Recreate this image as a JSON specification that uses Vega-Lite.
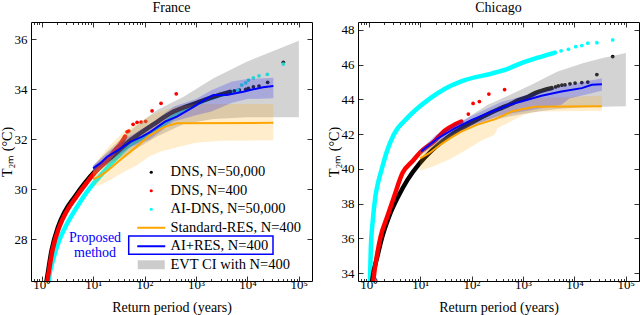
{
  "$schema": "https://vega.github.io/schema/vega-lite/v6.json",
  "padding": {"left": 0, "top": 0, "right": 0, "bottom": 0},
  "config": {
    "view": {"stroke": null},
    "font": "Liberation Serif",
    "axis": {"domainColor": "black", "tickColor": "black", "tickWidth": 0.8, "domainWidth": 1, "grid": false, "zindex": 1},
    "concat": {"spacing": 14}
  },
  "datasets": {
    "fr_pts": [
      {"s":"AI-DNS, N=50,000","k":"d","v":1.3,"t":25.9},{"s":"AI-DNS, N=50,000","k":"d","v":1.37,"t":26.36},{"s":"AI-DNS, N=50,000","k":"d","v":1.66,"t":27.16},{"s":"AI-DNS, N=50,000","k":"d","v":2.08,"t":27.83},{"s":"AI-DNS, N=50,000","k":"d","v":2.79,"t":28.43},{"s":"AI-DNS, N=50,000","k":"d","v":4.06,"t":29.03},{"s":"AI-DNS, N=50,000","k":"d","v":5.88,"t":29.56},{"s":"AI-DNS, N=50,000","k":"d","v":8.51,"t":30.03},{"s":"AI-DNS, N=50,000","k":"d","v":12.4,"t":30.43},{"s":"AI-DNS, N=50,000","k":"d","v":20,"t":30.9},{"s":"AI-DNS, N=50,000","k":"d","v":50,"t":31.75},{"s":"AI-DNS, N=50,000","k":"d","v":150,"t":32.3},{"s":"AI-DNS, N=50,000","k":"d","v":400,"t":32.95},{"s":"AI-DNS, N=50,000","k":"d","v":1000,"t":33.4},{"s":"AI-DNS, N=50,000","k":"d","v":2500,"t":33.72},{"s":"AI-DNS, N=50,000","k":"d","v":5000,"t":33.88},
      {"s":"DNS, N=50,000","k":"d","v":1.14,"t":25.9},{"s":"DNS, N=50,000","k":"d","v":1.25,"t":26.36},{"s":"DNS, N=50,000","k":"d","v":1.56,"t":27.56},{"s":"DNS, N=50,000","k":"d","v":2.08,"t":28.49},{"s":"DNS, N=50,000","k":"d","v":2.79,"t":29.09},{"s":"DNS, N=50,000","k":"d","v":4.36,"t":29.69},{"s":"DNS, N=50,000","k":"d","v":6.81,"t":30.23},{"s":"DNS, N=50,000","k":"d","v":10.6,"t":30.69},{"s":"DNS, N=50,000","k":"d","v":19.4,"t":31.16},{"s":"DNS, N=50,000","k":"d","v":53,"t":31.95},{"s":"DNS, N=50,000","k":"d","v":151,"t":32.6},{"s":"DNS, N=50,000","k":"d","v":368,"t":33.1},{"s":"DNS, N=50,000","k":"d","v":1040,"t":33.45},{"s":"DNS, N=50,000","k":"d","v":2190,"t":33.69},{"s":"DNS, N=50,000","k":"d","v":4600,"t":33.89},
      {"s":"DNS, N=400","k":"d","v":1.17,"t":25.9},{"s":"DNS, N=400","k":"d","v":1.28,"t":26.32},{"s":"DNS, N=400","k":"d","v":1.62,"t":27.56},{"s":"DNS, N=400","k":"d","v":2.2,"t":28.49},{"s":"DNS, N=400","k":"d","v":3.01,"t":29.09},{"s":"DNS, N=400","k":"d","v":4.7,"t":29.69},{"s":"DNS, N=400","k":"d","v":7.37,"t":30.23},{"s":"DNS, N=400","k":"d","v":10.98,"t":30.68},{"s":"DNS, N=400","k":"d","v":18.8,"t":31.16},{"s":"DNS, N=400","k":"d","v":26.8,"t":31.56},{"s":"DNS, N=400","k":"d","v":35,"t":31.84},{"s":"DNS, N=400","k":"d","v":42,"t":32.1},
      {"s":"DNS, N=50,000","k":"p","v":5600,"t":33.93},{"s":"DNS, N=50,000","k":"p","v":7000,"t":33.96},{"s":"DNS, N=50,000","k":"p","v":9270,"t":33.99},{"s":"DNS, N=50,000","k":"p","v":10450,"t":34.03},{"s":"DNS, N=50,000","k":"p","v":13060,"t":34.09},{"s":"DNS, N=50,000","k":"p","v":16790,"t":34.12},{"s":"DNS, N=50,000","k":"p","v":24700,"t":34.27},{"s":"DNS, N=50,000","k":"p","v":49900,"t":35.07},
      {"s":"DNS, N=400","k":"p","v":45.8,"t":32.29},{"s":"DNS, N=400","k":"p","v":49.4,"t":32.32},{"s":"DNS, N=400","k":"p","v":59.9,"t":32.59},{"s":"DNS, N=400","k":"p","v":71.6,"t":32.67},{"s":"DNS, N=400","k":"p","v":85.6,"t":32.68},{"s":"DNS, N=400","k":"p","v":105,"t":32.71},{"s":"DNS, N=400","k":"p","v":140,"t":33.13},{"s":"DNS, N=400","k":"p","v":209,"t":33.43},{"s":"DNS, N=400","k":"p","v":413,"t":33.81},
      {"s":"AI-DNS, N=50,000","k":"p","v":6490,"t":33.96},{"s":"AI-DNS, N=50,000","k":"p","v":7760,"t":34.16},{"s":"AI-DNS, N=50,000","k":"p","v":9270,"t":34.25},{"s":"AI-DNS, N=50,000","k":"p","v":10450,"t":34.36},{"s":"AI-DNS, N=50,000","k":"p","v":13060,"t":34.45},{"s":"AI-DNS, N=50,000","k":"p","v":16790,"t":34.53},{"s":"AI-DNS, N=50,000","k":"p","v":24400,"t":34.59},{"s":"AI-DNS, N=50,000","k":"p","v":49900,"t":35.0}
    ],
    "fr_lines": [
      {"s":"AI+RES, N=400","v":10,"t":30.83},{"s":"AI+RES, N=400","v":14,"t":31.05},{"s":"AI+RES, N=400","v":18.7,"t":31.29},{"s":"AI+RES, N=400","v":30,"t":31.55},{"s":"AI+RES, N=400","v":53,"t":31.89},{"s":"AI+RES, N=400","v":90,"t":32.1},{"s":"AI+RES, N=400","v":130,"t":32.29},{"s":"AI+RES, N=400","v":250,"t":32.7},{"s":"AI+RES, N=400","v":426,"t":32.9},{"s":"AI+RES, N=400","v":898,"t":33.29},{"s":"AI+RES, N=400","v":1630,"t":33.63},{"s":"AI+RES, N=400","v":2180,"t":33.76},{"s":"AI+RES, N=400","v":3940,"t":33.76},{"s":"AI+RES, N=400","v":8300,"t":33.89},{"s":"AI+RES, N=400","v":13000,"t":33.99},{"s":"AI+RES, N=400","v":20200,"t":34.07},{"s":"AI+RES, N=400","v":31900,"t":34.12},
      {"s":"Standard-RES, N=400","v":10,"t":30.4},{"s":"Standard-RES, N=400","v":13,"t":30.5},{"s":"Standard-RES, N=400","v":18,"t":30.7},{"s":"Standard-RES, N=400","v":25,"t":30.95},{"s":"Standard-RES, N=400","v":35,"t":31.2},{"s":"Standard-RES, N=400","v":50,"t":31.45},{"s":"Standard-RES, N=400","v":72,"t":31.72},{"s":"Standard-RES, N=400","v":121,"t":32.12},{"s":"Standard-RES, N=400","v":188,"t":32.36},{"s":"Standard-RES, N=400","v":242,"t":32.49},{"s":"Standard-RES, N=400","v":426,"t":32.63},{"s":"Standard-RES, N=400","v":31900,"t":32.65}
    ],
    "fr_bands": [
      {"s":"EVT CI with N=400","v":10,"lo":30.55,"hi":30.95},{"s":"EVT CI with N=400","v":20,"lo":31.0,"hi":31.55},{"s":"EVT CI with N=400","v":50,"lo":31.45,"hi":32.3},{"s":"EVT CI with N=400","v":175,"lo":32.1,"hi":33.16},{"s":"EVT CI with N=400","v":575,"lo":32.6,"hi":33.69},{"s":"EVT CI with N=400","v":2190,"lo":32.8,"hi":34.43},{"s":"EVT CI with N=400","v":9690,"lo":32.87,"hi":35.09},{"s":"EVT CI with N=400","v":100000,"lo":32.87,"hi":35.93},
      {"s":"AI+RES, N=400","v":10,"lo":30.7,"hi":30.95},{"s":"AI+RES, N=400","v":20,"lo":31.1,"hi":31.5},{"s":"AI+RES, N=400","v":50,"lo":31.65,"hi":32.1},{"s":"AI+RES, N=400","v":130,"lo":32.0,"hi":32.6},{"s":"AI+RES, N=400","v":370,"lo":32.7,"hi":33.3},{"s":"AI+RES, N=400","v":1000,"lo":32.95,"hi":33.6},{"s":"AI+RES, N=400","v":2000,"lo":33.1,"hi":33.95},{"s":"AI+RES, N=400","v":5000,"lo":33.45,"hi":34.3},{"s":"AI+RES, N=400","v":10000,"lo":33.6,"hi":34.4},{"s":"AI+RES, N=400","v":31900,"lo":33.63,"hi":34.45},
      {"s":"Standard-RES, N=400","v":10,"lo":30.1,"hi":30.9},{"s":"Standard-RES, N=400","v":15,"lo":30.2,"hi":31.4},{"s":"Standard-RES, N=400","v":25,"lo":30.45,"hi":31.9},{"s":"Standard-RES, N=400","v":40,"lo":30.7,"hi":32.3},{"s":"Standard-RES, N=400","v":70,"lo":30.95,"hi":32.6},{"s":"Standard-RES, N=400","v":120,"lo":31.3,"hi":32.9},{"s":"Standard-RES, N=400","v":200,"lo":31.5,"hi":33.1},{"s":"Standard-RES, N=400","v":400,"lo":31.65,"hi":33.3},{"s":"Standard-RES, N=400","v":1000,"lo":31.85,"hi":33.4},{"s":"Standard-RES, N=400","v":3000,"lo":31.93,"hi":33.4},{"s":"Standard-RES, N=400","v":31900,"lo":31.95,"hi":33.4}
    ],
    "ch_pts": [
      {"s":"AI-DNS, N=50,000","k":"d","v":1.04,"t":33.0},{"s":"AI-DNS, N=50,000","k":"d","v":1.06,"t":33.64},{"s":"AI-DNS, N=50,000","k":"d","v":1.1,"t":35.4},{"s":"AI-DNS, N=50,000","k":"d","v":1.2,"t":37.0},{"s":"AI-DNS, N=50,000","k":"d","v":1.35,"t":38.4},{"s":"AI-DNS, N=50,000","k":"d","v":1.55,"t":39.3},{"s":"AI-DNS, N=50,000","k":"d","v":1.8,"t":40.0},{"s":"AI-DNS, N=50,000","k":"d","v":2.2,"t":40.9},{"s":"AI-DNS, N=50,000","k":"d","v":3.04,"t":41.95},{"s":"AI-DNS, N=50,000","k":"d","v":5.72,"t":42.95},{"s":"AI-DNS, N=50,000","k":"d","v":14.7,"t":44.0},{"s":"AI-DNS, N=50,000","k":"d","v":29.9,"t":44.6},{"s":"AI-DNS, N=50,000","k":"d","v":73.6,"t":45.11},{"s":"AI-DNS, N=50,000","k":"d","v":244,"t":45.49},{"s":"AI-DNS, N=50,000","k":"d","v":518,"t":45.78},{"s":"AI-DNS, N=50,000","k":"d","v":931,"t":46.09},{"s":"AI-DNS, N=50,000","k":"d","v":2290,"t":46.47},{"s":"AI-DNS, N=50,000","k":"d","v":4170,"t":46.7},
      {"s":"DNS, N=50,000","k":"d","v":1.13,"t":33.2},{"s":"DNS, N=50,000","k":"d","v":1.18,"t":33.64},{"s":"DNS, N=50,000","k":"d","v":1.48,"t":34.98},{"s":"DNS, N=50,000","k":"d","v":1.85,"t":36.13},{"s":"DNS, N=50,000","k":"d","v":2.51,"t":37.28},{"s":"DNS, N=50,000","k":"d","v":3.64,"t":38.33},{"s":"DNS, N=50,000","k":"d","v":5.72,"t":39.38},{"s":"DNS, N=50,000","k":"d","v":9.68,"t":40.3},{"s":"DNS, N=50,000","k":"d","v":16.1,"t":41.0},{"s":"DNS, N=50,000","k":"d","v":39.7,"t":41.95},{"s":"DNS, N=50,000","k":"d","v":97.8,"t":42.64},{"s":"DNS, N=50,000","k":"d","v":241,"t":43.25},{"s":"DNS, N=50,000","k":"d","v":378,"t":43.5},{"s":"DNS, N=50,000","k":"d","v":593,"t":43.75},{"s":"DNS, N=50,000","k":"d","v":802,"t":43.95},{"s":"DNS, N=50,000","k":"d","v":1260,"t":44.15},{"s":"DNS, N=50,000","k":"d","v":1690,"t":44.35},{"s":"DNS, N=50,000","k":"d","v":3600,"t":44.65},
      {"s":"DNS, N=400","k":"d","v":1.2,"t":33.2},{"s":"DNS, N=400","k":"d","v":1.24,"t":33.64},{"s":"DNS, N=400","k":"d","v":1.48,"t":35.17},{"s":"DNS, N=400","k":"d","v":1.72,"t":36.13},{"s":"DNS, N=400","k":"d","v":2.32,"t":37.28},{"s":"DNS, N=400","k":"d","v":3.14,"t":38.43},{"s":"DNS, N=400","k":"d","v":4.57,"t":39.77},{"s":"DNS, N=400","k":"d","v":7.17,"t":40.45},{"s":"DNS, N=400","k":"d","v":10.4,"t":41.0},{"s":"DNS, N=400","k":"d","v":19,"t":41.6},{"s":"DNS, N=400","k":"d","v":29.9,"t":42.2},{"s":"DNS, N=400","k":"d","v":46.9,"t":42.55},{"s":"DNS, N=400","k":"d","v":63.1,"t":42.72},
      {"s":"DNS, N=50,000","k":"p","v":4300,"t":44.72},{"s":"DNS, N=50,000","k":"p","v":4860,"t":44.78},{"s":"DNS, N=50,000","k":"p","v":5700,"t":44.82},{"s":"DNS, N=50,000","k":"p","v":6550,"t":44.84},{"s":"DNS, N=50,000","k":"p","v":8200,"t":44.9},{"s":"DNS, N=50,000","k":"p","v":10300,"t":44.94},{"s":"DNS, N=50,000","k":"p","v":13900,"t":44.97},{"s":"DNS, N=50,000","k":"p","v":18200,"t":45.0},{"s":"DNS, N=50,000","k":"p","v":27300,"t":45.43},{"s":"DNS, N=50,000","k":"p","v":55500,"t":46.47},
      {"s":"DNS, N=400","k":"p","v":86.6,"t":43.16},{"s":"DNS, N=400","k":"p","v":107,"t":43.77},{"s":"DNS, N=400","k":"p","v":142,"t":43.88},{"s":"DNS, N=400","k":"p","v":217,"t":44.31},{"s":"DNS, N=400","k":"p","v":439,"t":44.57},
      {"s":"AI-DNS, N=50,000","k":"p","v":5500,"t":46.8},{"s":"AI-DNS, N=50,000","k":"p","v":7640,"t":46.89},{"s":"AI-DNS, N=50,000","k":"p","v":10600,"t":47.04},{"s":"AI-DNS, N=50,000","k":"p","v":13900,"t":47.1},{"s":"AI-DNS, N=50,000","k":"p","v":18200,"t":47.24},{"s":"AI-DNS, N=50,000","k":"p","v":27300,"t":47.27},{"s":"AI-DNS, N=50,000","k":"p","v":55500,"t":47.43}
    ],
    "ch_lines": [
      {"s":"AI+RES, N=400","v":10.4,"t":41.0},{"s":"AI+RES, N=400","v":22.1,"t":41.76},{"s":"AI+RES, N=400","v":46.9,"t":42.33},{"s":"AI+RES, N=400","v":99,"t":42.81},{"s":"AI+RES, N=400","v":244,"t":43.29},{"s":"AI+RES, N=400","v":378,"t":43.5},{"s":"AI+RES, N=400","v":518,"t":43.67},{"s":"AI+RES, N=400","v":931,"t":43.88},{"s":"AI+RES, N=400","v":2290,"t":44.21},{"s":"AI+RES, N=400","v":5600,"t":44.46},{"s":"AI+RES, N=400","v":13900,"t":44.65},{"s":"AI+RES, N=400","v":21900,"t":44.84},{"s":"AI+RES, N=400","v":34200,"t":44.88},
      {"s":"Standard-RES, N=400","v":10,"t":40.6},{"s":"Standard-RES, N=400","v":15,"t":40.9},{"s":"Standard-RES, N=400","v":25,"t":41.4},{"s":"Standard-RES, N=400","v":40,"t":41.8},{"s":"Standard-RES, N=400","v":63,"t":42.15},{"s":"Standard-RES, N=400","v":130,"t":42.55},{"s":"Standard-RES, N=400","v":280,"t":42.85},{"s":"Standard-RES, N=400","v":600,"t":43.3},{"s":"Standard-RES, N=400","v":1000,"t":43.45},{"s":"Standard-RES, N=400","v":1700,"t":43.58},{"s":"Standard-RES, N=400","v":34200,"t":43.6}
    ],
    "ch_bands": [
      {"s":"EVT CI with N=400","v":10,"lo":40.8,"hi":41.1},{"s":"EVT CI with N=400","v":30,"lo":41.6,"hi":42.0},{"s":"EVT CI with N=400","v":100,"lo":42.4,"hi":43.1},{"s":"EVT CI with N=400","v":207,"lo":42.7,"hi":43.7},{"s":"EVT CI with N=400","v":500,"lo":43.0,"hi":44.2},{"s":"EVT CI with N=400","v":1460,"lo":43.25,"hi":44.84},{"s":"EVT CI with N=400","v":4600,"lo":43.45,"hi":45.6},{"s":"EVT CI with N=400","v":15000,"lo":43.55,"hi":46.1},{"s":"EVT CI with N=400","v":34000,"lo":43.58,"hi":46.37},{"s":"EVT CI with N=400","v":100000,"lo":43.6,"hi":46.68},
      {"s":"AI+RES, N=400","v":10.4,"lo":40.85,"hi":41.15},{"s":"AI+RES, N=400","v":20,"lo":41.5,"hi":41.95},{"s":"AI+RES, N=400","v":50,"lo":42.1,"hi":42.6},{"s":"AI+RES, N=400","v":100,"lo":42.5,"hi":43.05},{"s":"AI+RES, N=400","v":378,"lo":43.1,"hi":43.85},{"s":"AI+RES, N=400","v":1000,"lo":43.3,"hi":44.2},{"s":"AI+RES, N=400","v":5600,"lo":43.7,"hi":44.75},{"s":"AI+RES, N=400","v":8000,"lo":44.05,"hi":44.85},{"s":"AI+RES, N=400","v":34200,"lo":44.5,"hi":45.22},
      {"s":"Standard-RES, N=400","v":10,"lo":39.9,"hi":40.9},{"s":"Standard-RES, N=400","v":20,"lo":40.2,"hi":41.5},{"s":"Standard-RES, N=400","v":40,"lo":40.6,"hi":42.0},{"s":"Standard-RES, N=400","v":80,"lo":41.1,"hi":42.45},{"s":"Standard-RES, N=400","v":150,"lo":41.6,"hi":42.8},{"s":"Standard-RES, N=400","v":280,"lo":41.97,"hi":43.1},{"s":"Standard-RES, N=400","v":320,"lo":42.35,"hi":43.2},{"s":"Standard-RES, N=400","v":600,"lo":42.75,"hi":43.6},{"s":"Standard-RES, N=400","v":1000,"lo":43.1,"hi":43.9},{"s":"Standard-RES, N=400","v":2000,"lo":43.3,"hi":44.1},{"s":"Standard-RES, N=400","v":34200,"lo":43.35,"hi":44.21}
    ]
  },
  "hconcat": [
    {
      "width": 281, "height": 259,
      "title": {"text": "France", "font": "Liberation Serif", "fontSize": 14, "fontWeight": "normal", "color": "black", "offset": 7, "anchor": "middle"},
      "layer": [
        {"data": {"name": "fr_pts"}, "transform": [{"filter": "datum.k === 'd' && datum.s === 'AI-DNS, N=50,000'"}],
         "mark": {"type": "line", "strokeWidth": 4.5, "strokeCap": "round", "strokeJoin": "round", "interpolate": "monotone", "clip": true},
         "encoding": {
           "x": {"field": "v", "type": "quantitative", "scale": {"type": "log", "domain": [0.62, 180000], "nice": false}, "axis": null},
           "y": {"field": "t", "type": "quantitative", "scale": {"domain": [26.33, 36.68], "nice": false, "zero": false}, "axis": null},
           "color": {"field": "s", "type": "nominal",
             "scale": {"domain": ["DNS, N=50,000", "DNS, N=400", "AI-DNS, N=50,000", "Standard-RES, N=400", "AI+RES, N=400", "EVT CI with N=400"], "range": ["#000000", "#ff0000", "#00ffff", "#ffa500", "#0000ff", "#808080"]},
             "legend": {"orient": "none", "legendX": 110, "legendY": 143, "title": null, "labelFont": "Liberation Serif", "labelFontSize": 14.5, "labelColor": "black", "labelLimit": 0, "rowPadding": 3.5, "labelOffset": 12, "symbolOffset": 3, "symbolSize": 784, "symbolStrokeWidth": 2, "padding": 0,
               "encode": {
                 "symbols": {
                   "update": {
                     "shape": {"signal": "(datum.value === 'Standard-RES, N=400' || datum.value === 'AI+RES, N=400') ? 'stroke' : datum.value === 'EVT CI with N=400' ? 'M-1,-0.33H1V0.33H-1Z' : 'circle'"},
                     "size": {"signal": "(datum.value === 'Standard-RES, N=400' || datum.value === 'AI+RES, N=400') ? 784 : datum.value === 'EVT CI with N=400' ? 729 : 10"},
                     "strokeWidth": {"signal": "(datum.value === 'Standard-RES, N=400' || datum.value === 'AI+RES, N=400') ? 2 : 0"},
                     "fillOpacity": {"signal": "datum.value === 'EVT CI with N=400' ? 0.4 : 1"},
                     "opacity": {"value": 1}
                   }
                 }
               }
             }
           }
         }},
        {"data": {"name": "fr_pts"}, "transform": [{"filter": "datum.k === 'd' && datum.s === 'DNS, N=50,000'"}],
         "mark": {"type": "line", "strokeWidth": 4.5, "strokeCap": "round", "strokeJoin": "round", "interpolate": "monotone", "clip": true},
         "encoding": {"x": {"field": "v", "type": "quantitative", "scale": {"type": "log", "domain": [0.62, 180000], "nice": false}, "axis": null}, "y": {"field": "t", "type": "quantitative", "scale": {"domain": [26.33, 36.68], "nice": false, "zero": false}, "axis": null}, "color": {"field": "s", "type": "nominal"}}},
        {"data": {"name": "fr_pts"}, "transform": [{"filter": "datum.k === 'd' && datum.s === 'DNS, N=400'"}],
         "mark": {"type": "line", "strokeWidth": 4.5, "strokeCap": "round", "strokeJoin": "round", "interpolate": "monotone", "clip": true},
         "encoding": {"x": {"field": "v", "type": "quantitative", "scale": {"type": "log", "domain": [0.62, 180000], "nice": false}, "axis": null}, "y": {"field": "t", "type": "quantitative", "scale": {"domain": [26.33, 36.68], "nice": false, "zero": false}, "axis": null}, "color": {"field": "s", "type": "nominal"}}},
        {"data": {"name": "fr_pts"}, "transform": [{"filter": "datum.k === 'p'"}],
         "mark": {"type": "circle", "size": 14, "opacity": 1, "clip": true},
         "encoding": {"x": {"field": "v", "type": "quantitative", "scale": {"type": "log", "domain": [0.62, 180000], "nice": false}, "axis": null}, "y": {"field": "t", "type": "quantitative", "scale": {"domain": [26.33, 36.68], "nice": false, "zero": false}, "axis": null}, "color": {"field": "s", "type": "nominal"}}},
        {"data": {"name": "fr_bands"}, "transform": [{"filter": "datum.s === 'EVT CI with N=400'"}],
         "mark": {"type": "area", "opacity": 0.35, "clip": true},
         "encoding": {
           "x": {"field": "v", "type": "quantitative", "scale": {"type": "log", "domain": [0.62, 180000], "nice": false},
             "axis": {"orient": "bottom", "values": [0.7,0.8,0.9,1,2,3,4,5,6,7,8,9,10,20,30,40,50,60,70,80,90,100,200,300,400,500,600,700,800,900,1000,2000,3000,4000,5000,6000,7000,8000,9000,10000,20000,30000,40000,50000,60000,70000,80000,90000,100000],
               "labelExpr": "abs(log(datum.value)/LN10 - round(log(datum.value)/LN10)) < 0.01 ? '10' + ['⁰','¹','²','³','⁴','⁵'][round(log(datum.value)/LN10)] : ''",
               "tickSize": {"condition": {"test": "abs(log(datum.value)/LN10 - round(log(datum.value)/LN10)) < 0.01", "value": -5}, "value": -2.5},
               "labelPadding": 2, "labelFont": "Liberation Serif", "labelFontSize": 13, "labelColor": "black", "labelOverlap": false, "labelFlush": false,
               "title": "Return period (years)", "titleFont": "Liberation Serif", "titleFontSize": 14, "titleFontWeight": "normal", "titleColor": "black", "titlePadding": 7}},
           "y": {"field": "lo", "type": "quantitative", "scale": {"domain": [26.33, 36.68], "nice": false, "zero": false},
             "axis": {"orient": "left", "values": [28, 30, 32, 34, 36], "tickSize": -5, "labelPadding": 9, "labelFont": "Liberation Serif", "labelFontSize": 13, "labelColor": "black",
               "title": "T₂ₘ (°C)", "titleFont": "Liberation Serif", "titleFontSize": 14, "titleFontWeight": "normal", "titleColor": "black", "titlePadding": 0}},
           "y2": {"field": "hi"},
           "color": {"field": "s", "type": "nominal"}
         }},
        {"data": {"name": "fr_bands"}, "transform": [{"filter": "datum.s === 'Standard-RES, N=400'"}],
         "mark": {"type": "area", "opacity": 0.2, "clip": true},
         "encoding": {
           "x": {"field": "v", "type": "quantitative", "scale": {"type": "log", "domain": [0.62, 180000], "nice": false},
             "axis": {"orient": "top", "values": [0.7,0.8,0.9,1,2,3,4,5,6,7,8,9,10,20,30,40,50,60,70,80,90,100,200,300,400,500,600,700,800,900,1000,2000,3000,4000,5000,6000,7000,8000,9000,10000,20000,30000,40000,50000,60000,70000,80000,90000,100000],
               "labels": false, "title": null,
               "tickSize": {"condition": {"test": "abs(log(datum.value)/LN10 - round(log(datum.value)/LN10)) < 0.01", "value": -5}, "value": -2.5}}},
           "y": {"field": "lo", "type": "quantitative", "scale": {"domain": [26.33, 36.68], "nice": false, "zero": false},
             "axis": {"orient": "right", "values": [28, 30, 32, 34, 36], "tickSize": -5, "labels": false, "title": null}},
           "y2": {"field": "hi"},
           "color": {"field": "s", "type": "nominal"}
         }},
        {"data": {"name": "fr_bands"}, "transform": [{"filter": "datum.s === 'AI+RES, N=400'"}],
         "mark": {"type": "area", "opacity": 0.2, "clip": true},
         "encoding": {"x": {"field": "v", "type": "quantitative", "scale": {"type": "log", "domain": [0.62, 180000], "nice": false}, "axis": null}, "y": {"field": "lo", "type": "quantitative", "scale": {"domain": [26.33, 36.68], "nice": false, "zero": false}, "axis": null}, "y2": {"field": "hi"}, "color": {"field": "s", "type": "nominal"}}},
        {"data": {"name": "fr_lines"}, "transform": [{"filter": "datum.s === 'Standard-RES, N=400'"}],
         "mark": {"type": "line", "strokeWidth": 2, "clip": true},
         "encoding": {"x": {"field": "v", "type": "quantitative", "scale": {"type": "log", "domain": [0.62, 180000], "nice": false}, "axis": null}, "y": {"field": "t", "type": "quantitative", "scale": {"domain": [26.33, 36.68], "nice": false, "zero": false}, "axis": null}, "color": {"field": "s", "type": "nominal"}}},
        {"data": {"name": "fr_lines"}, "transform": [{"filter": "datum.s === 'AI+RES, N=400'"}],
         "mark": {"type": "line", "strokeWidth": 2, "clip": true},
         "encoding": {"x": {"field": "v", "type": "quantitative", "scale": {"type": "log", "domain": [0.62, 180000], "nice": false}, "axis": null}, "y": {"field": "t", "type": "quantitative", "scale": {"domain": [26.33, 36.68], "nice": false, "zero": false}, "axis": null}, "color": {"field": "s", "type": "nominal"}}},
        {"data": {"values": [{"label": "Proposed method"}]},
         "mark": {"type": "text", "fill": "#0000ff", "font": "Liberation Serif", "fontSize": 14, "align": "center", "baseline": "middle", "lineHeight": 15, "lineBreak": " "},
         "encoding": {"text": {"field": "label", "type": "nominal"}, "x": {"datum": 10.9, "type": "quantitative", "axis": null}, "y": {"datum": 28.05, "type": "quantitative", "axis": null}}},
        {"data": {"values": [{"label": "AI+RES box"}]},
         "mark": {"type": "rect", "fillOpacity": 0, "stroke": "#0000ff", "strokeWidth": 1.5},
         "encoding": {"x": {"datum": 49.2, "type": "quantitative", "axis": null}, "x2": {"datum": 31400}, "y": {"datum": 27.40, "type": "quantitative", "axis": null}, "y2": {"datum": 28.13}}}
      ]
    },
    {
      "width": 281, "height": 259,
      "title": {"text": "Chicago", "font": "Liberation Serif", "fontSize": 14, "fontWeight": "normal", "color": "black", "offset": 7, "anchor": "middle"},
      "encoding": {
        "x": {"field": "v", "type": "quantitative", "scale": {"type": "log", "domain": [0.62, 180000], "nice": false}, "axis": null},
        "color": {"field": "s", "type": "nominal"}
      },
      "layer": [
        {"data": {"name": "ch_pts"}, "transform": [{"filter": "datum.k === 'd' && datum.s === 'AI-DNS, N=50,000'"}],
         "mark": {"type": "line", "strokeWidth": 4.5, "strokeCap": "round", "strokeJoin": "round", "interpolate": "monotone", "clip": true},
         "encoding": {"y": {"field": "t", "type": "quantitative", "scale": {"domain": [33.54, 48.46], "nice": false, "zero": false}, "axis": null}}},
        {"data": {"name": "ch_pts"}, "transform": [{"filter": "datum.k === 'd' && datum.s === 'DNS, N=50,000'"}],
         "mark": {"type": "line", "strokeWidth": 4.5, "strokeCap": "round", "strokeJoin": "round", "interpolate": "monotone", "clip": true},
         "encoding": {"y": {"field": "t", "type": "quantitative", "scale": {"domain": [33.54, 48.46], "nice": false, "zero": false}, "axis": null}}},
        {"data": {"name": "ch_pts"}, "transform": [{"filter": "datum.k === 'd' && datum.s === 'DNS, N=400'"}],
         "mark": {"type": "line", "strokeWidth": 4.5, "strokeCap": "round", "strokeJoin": "round", "interpolate": "monotone", "clip": true},
         "encoding": {"y": {"field": "t", "type": "quantitative", "scale": {"domain": [33.54, 48.46], "nice": false, "zero": false}, "axis": null}}},
        {"data": {"name": "ch_pts"}, "transform": [{"filter": "datum.k === 'p'"}],
         "mark": {"type": "circle", "size": 14, "opacity": 1, "clip": true},
         "encoding": {"y": {"field": "t", "type": "quantitative", "scale": {"domain": [33.54, 48.46], "nice": false, "zero": false}, "axis": null}}},
        {"data": {"name": "ch_bands"}, "transform": [{"filter": "datum.s === 'EVT CI with N=400'"}],
         "mark": {"type": "area", "opacity": 0.35, "clip": true},
         "encoding": {
           "x": {"field": "v", "type": "quantitative", "scale": {"type": "log", "domain": [0.62, 180000], "nice": false},
             "axis": {"orient": "bottom", "values": [0.7,0.8,0.9,1,2,3,4,5,6,7,8,9,10,20,30,40,50,60,70,80,90,100,200,300,400,500,600,700,800,900,1000,2000,3000,4000,5000,6000,7000,8000,9000,10000,20000,30000,40000,50000,60000,70000,80000,90000,100000],
               "labelExpr": "abs(log(datum.value)/LN10 - round(log(datum.value)/LN10)) < 0.01 ? '10' + ['⁰','¹','²','³','⁴','⁵'][round(log(datum.value)/LN10)] : ''",
               "tickSize": {"condition": {"test": "abs(log(datum.value)/LN10 - round(log(datum.value)/LN10)) < 0.01", "value": -5}, "value": -2.5},
               "labelPadding": 2, "labelFont": "Liberation Serif", "labelFontSize": 13, "labelColor": "black", "labelOverlap": false, "labelFlush": false,
               "title": "Return period (years)", "titleFont": "Liberation Serif", "titleFontSize": 14, "titleFontWeight": "normal", "titleColor": "black", "titlePadding": 7}},
           "y": {"field": "lo", "type": "quantitative", "scale": {"domain": [33.54, 48.46], "nice": false, "zero": false},
             "axis": {"orient": "left", "values": [34, 36, 38, 40, 42, 44, 46, 48], "tickSize": -5, "labelPadding": 9, "labelFont": "Liberation Serif", "labelFontSize": 13, "labelColor": "black",
               "title": "T₂ₘ (°C)", "titleFont": "Liberation Serif", "titleFontSize": 14, "titleFontWeight": "normal", "titleColor": "black", "titlePadding": 0}},
           "y2": {"field": "hi"}
         }},
        {"data": {"name": "ch_bands"}, "transform": [{"filter": "datum.s === 'Standard-RES, N=400'"}],
         "mark": {"type": "area", "opacity": 0.2, "clip": true},
         "encoding": {
           "x": {"field": "v", "type": "quantitative", "scale": {"type": "log", "domain": [0.62, 180000], "nice": false},
             "axis": {"orient": "top", "values": [0.7,0.8,0.9,1,2,3,4,5,6,7,8,9,10,20,30,40,50,60,70,80,90,100,200,300,400,500,600,700,800,900,1000,2000,3000,4000,5000,6000,7000,8000,9000,10000,20000,30000,40000,50000,60000,70000,80000,90000,100000],
               "labels": false, "title": null,
               "tickSize": {"condition": {"test": "abs(log(datum.value)/LN10 - round(log(datum.value)/LN10)) < 0.01", "value": -5}, "value": -2.5}}},
           "y": {"field": "lo", "type": "quantitative", "scale": {"domain": [33.54, 48.46], "nice": false, "zero": false},
             "axis": {"orient": "right", "values": [34, 36, 38, 40, 42, 44, 46, 48], "tickSize": -5, "labels": false, "title": null}},
           "y2": {"field": "hi"}
         }},
        {"data": {"name": "ch_bands"}, "transform": [{"filter": "datum.s === 'AI+RES, N=400'"}],
         "mark": {"type": "area", "opacity": 0.2, "clip": true},
         "encoding": {"y": {"field": "lo", "type": "quantitative", "scale": {"domain": [33.54, 48.46], "nice": false, "zero": false}, "axis": null}, "y2": {"field": "hi"}}},
        {"data": {"name": "ch_lines"}, "transform": [{"filter": "datum.s === 'Standard-RES, N=400'"}],
         "mark": {"type": "line", "strokeWidth": 2, "clip": true},
         "encoding": {"y": {"field": "t", "type": "quantitative", "scale": {"domain": [33.54, 48.46], "nice": false, "zero": false}, "axis": null}}},
        {"data": {"name": "ch_lines"}, "transform": [{"filter": "datum.s === 'AI+RES, N=400'"}],
         "mark": {"type": "line", "strokeWidth": 2, "clip": true},
         "encoding": {"y": {"field": "t", "type": "quantitative", "scale": {"domain": [33.54, 48.46], "nice": false, "zero": false}, "axis": null}}}
      ]
    }
  ]
}
